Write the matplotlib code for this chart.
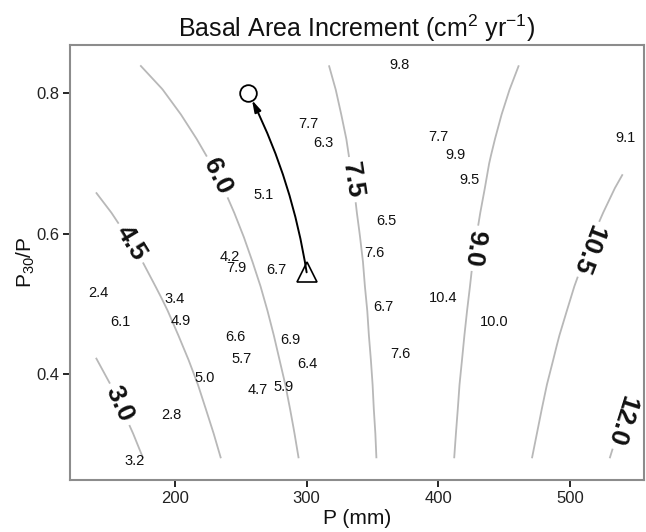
import matplotlib
matplotlib.use('Agg')
import matplotlib.pyplot as plt
import numpy as np

plt.rcParams['font.family'] = ['Liberation Sans', 'DejaVu Sans']
plt.rcParams['mathtext.fontset'] = 'custom'
plt.rcParams['mathtext.rm'] = 'Liberation Sans'
plt.rcParams['mathtext.it'] = 'Liberation Sans:italic'
plt.rcParams['mathtext.bf'] = 'Liberation Sans:bold'

# ---- data ----
grid_p = [140, 190, 240, 290, 340, 390, 440, 490, 540]
grid_ratio = [0.28, 0.315, 0.35, 0.385, 0.42, 0.455, 0.49, 0.525, 0.56,
              0.595, 0.63, 0.665, 0.70, 0.735, 0.77, 0.805, 0.84]
bai_grid = [
    [2.09, 3.36, 4.63, 5.90, 7.17, 8.44, 9.71, 10.98, 12.25],
    [2.31, 3.53, 4.76, 5.98, 7.20, 8.43, 9.65, 10.87, 12.10],
    [2.53, 3.71, 4.89, 6.06, 7.24, 8.42, 9.59, 10.77, 11.95],
    [2.75, 3.88, 5.01, 6.14, 7.27, 8.41, 9.54, 10.67, 11.80],
    [2.98, 4.06, 5.14, 6.23, 7.31, 8.39, 9.48, 10.56, 11.64],
    [3.20, 4.24, 5.27, 6.31, 7.35, 8.38, 9.42, 10.46, 11.49],
    [3.42, 4.41, 5.40, 6.39, 7.38, 8.37, 9.36, 10.35, 11.34],
    [3.65, 4.59, 5.53, 6.47, 7.42, 8.36, 9.30, 10.25, 11.19],
    [3.87, 4.76, 5.66, 6.56, 7.45, 8.35, 9.25, 10.14, 11.04],
    [4.09, 4.94, 5.79, 6.64, 7.49, 8.34, 9.19, 10.04, 10.89],
    [4.31, 5.12, 5.92, 6.72, 7.53, 8.33, 9.13, 9.93, 10.74],
    [4.54, 5.29, 6.05, 6.81, 7.56, 8.32, 9.07, 9.83, 10.59],
    [4.76, 5.47, 6.18, 6.89, 7.60, 8.31, 9.02, 9.72, 10.43],
    [4.98, 5.65, 6.31, 6.97, 7.63, 8.30, 8.96, 9.62, 10.28],
    [5.21, 5.82, 6.44, 7.05, 7.67, 8.28, 8.90, 9.52, 10.13],
    [5.43, 5.99, 6.57, 7.14, 7.70, 8.27, 8.84, 9.41, 9.98],
    [5.65, 6.17, 6.70, 7.22, 7.74, 8.26, 8.78, 9.30, 9.83],
]
levels = [3.0, 4.5, 6.0, 7.5, 9.0, 10.5, 12.0]
label_pos = [(157, 0.356), (165.8, 0.586), (230, 0.679), (331, 0.676),
             (425, 0.580), (511, 0.580), (537, 0.335)]

site_p = [301.3, 312.6, 267.6, 241.8, 246.8, 276.7, 370.9, 400.0, 413.4, 424.0,
          541.8, 360.2, 351.4, 141.8, 158.2, 200.0, 204.3, 245.6, 287.3, 250.6,
          300.5, 222.8, 262.5, 282.3, 197.0, 169.6, 403.8, 358.2, 442.3, 371.4]
site_ratio = [0.757, 0.729, 0.655, 0.567, 0.551, 0.548, 0.840, 0.738, 0.712, 0.676,
              0.737, 0.618, 0.573, 0.515, 0.474, 0.507, 0.476, 0.453, 0.448, 0.422,
              0.415, 0.394, 0.377, 0.382, 0.341, 0.276, 0.509, 0.495, 0.474, 0.428]
site_bai = ['7.7', '6.3', '5.1', '4.2', '7.9', '6.7', '9.8', '7.7', '9.9', '9.5',
            '9.1', '6.5', '7.6', '2.4', '6.1', '3.4', '4.9', '6.6', '6.9', '5.7',
            '6.4', '5.0', '4.7', '5.9', '2.8', '3.2', '10.4', '6.7', '10.0', '7.6']

start_p, start_ratio = 300.0, 0.545
end_p, end_ratio = 255.7, 0.801

# ---- figure ----
fig = plt.figure(figsize=(6.46, 5.32), dpi=100)
ax = fig.add_axes([70 / 646, 52 / 532, 574 / 646, 435 / 532])

cs = ax.contour(grid_p, grid_ratio, bai_grid, levels=levels,
                colors='#b8b8b8', linewidths=1.3)
texts = ax.clabel(cs, levels, fmt='%.1f', inline=True, inline_spacing=7,
                  manual=label_pos, fontsize=19, colors='#111111')
for t in texts:
    t.set_fontweight('bold')
    r = t.get_rotation() % 360
    if r > 180:
        r -= 360
    if r > 0:
        r -= 180
    t.set_rotation(r)

for p, q, s in zip(site_p, site_ratio, site_bai):
    ax.text(p, q, s, ha='center', va='center', fontsize=10.5, color='#111111')

ax.annotate('', xy=(end_p, end_ratio), xytext=(start_p, start_ratio),
            arrowprops=dict(arrowstyle='-|>,head_length=0.7,head_width=0.2',
                            connectionstyle='arc3,rad=0.08', color='k',
                            lw=1.4, shrinkA=0, shrinkB=6))
ax.plot([start_p], [start_ratio], marker='^', ms=15, mfc='none', mec='k', mew=1.2)
ax.plot([end_p], [end_ratio], marker='o', ms=12, mfc='none', mec='k', mew=1.3)

ax.set_xlim(120.3, 556.2)
ax.set_ylim(0.249, 0.869)
ax.set_xticks([200, 300, 400, 500])
ax.set_yticks([0.4, 0.6, 0.8])
ax.set_yticklabels(['0.4', '0.6', '0.8'])
ax.tick_params(direction='out', length=5, width=1.2, colors='k',
               labelcolor='#222222', labelsize=12, pad=3)
for sp in ax.spines.values():
    sp.set_color('#8c8c8c')
    sp.set_linewidth(1.5)

ax.set_title('Basal Area Increment (cm$^2$ yr$^{-1}$)', fontsize=18, pad=6,
             color='#111111')
ax.set_xlabel('P (mm)', fontsize=15, labelpad=2, color='#111111')
ax.set_ylabel('P$_{30}$/P', fontsize=15, labelpad=-1, color='#111111')

fig.savefig('out.png', dpi=100)
